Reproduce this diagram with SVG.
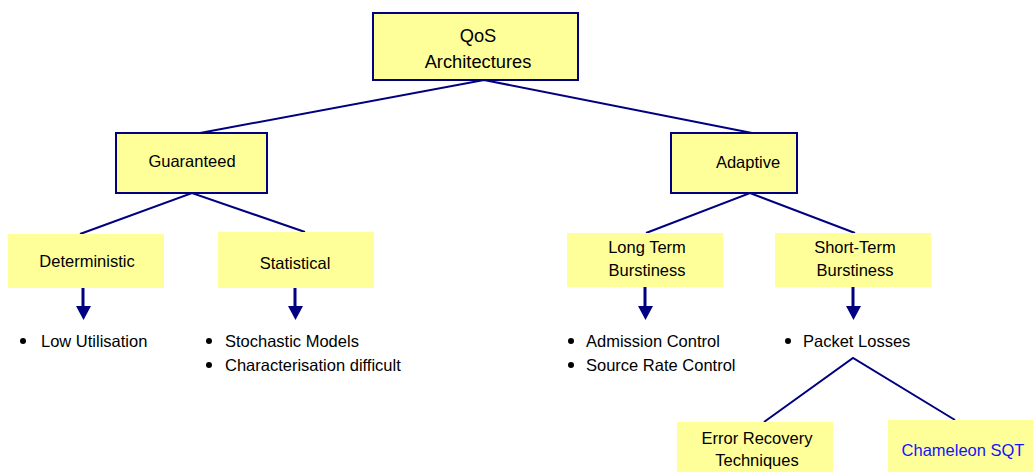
<svg xmlns="http://www.w3.org/2000/svg" width="1033" height="472" viewBox="0 0 1033 472">
<defs>
<style>
.t{font-family:"Liberation Sans",Arial,sans-serif;font-size:16.5px;fill:#000;text-anchor:middle}
.big{font-size:18.3px}
.b{font-family:"Liberation Sans",Arial,sans-serif;font-size:16.5px;fill:#000}
.box{fill:#ffff99;stroke:#000080;stroke-width:2}
.pale{fill:#ffff99;stroke:none}
.ln{stroke:#000080;stroke-width:2;fill:none}
.ar{stroke:#000080;stroke-width:3;fill:none}
.ah{fill:#000080}
</style>
</defs>
<rect width="1033" height="472" fill="#fff"/>
<g id="connectors">
<polyline class="ln" points="200,133 484,80 752,133"/>
<polyline class="ln" points="80,234 192,193 305,232"/>
<polyline class="ln" points="646,233 750,193 855,233"/>
<polyline class="ln" points="764,422 853,358 955,420"/>
<line class="ar" x1="83" y1="288" x2="83" y2="308"/>
<polygon class="ah" points="76,306 91,306 83.5,320"/>
<line class="ar" x1="295" y1="288" x2="295" y2="308"/>
<polygon class="ah" points="288,306 303,306 295.5,320"/>
<line class="ar" x1="645" y1="287" x2="645" y2="308"/>
<polygon class="ah" points="638,306 653,306 645.5,320"/>
<line class="ar" x1="853" y1="281" x2="853" y2="308"/>
<polygon class="ah" points="846,306 861,306 853.5,320"/>
</g>
<g id="qos">
<rect class="box" x="373" y="13" width="205" height="67"/>
<text class="t big" x="478" y="42">QoS</text>
<text class="t big" x="478" y="68">Architectures</text>
</g>
<g id="guaranteed">
<rect class="box" x="116" y="133" width="151" height="60"/>
<text class="t" x="192" y="167">Guaranteed</text>
</g>
<g id="adaptive">
<rect class="box" x="671" y="133" width="126" height="60"/>
<text class="t" x="748" y="168">Adaptive</text>
</g>
<g id="deterministic">
<rect class="pale" x="8" y="234" width="156" height="54"/>
<text class="t" x="87" y="267">Deterministic</text>
</g>
<g id="statistical">
<rect class="pale" x="218" y="232" width="156" height="56"/>
<text class="t" x="295" y="269">Statistical</text>
</g>
<g id="longterm">
<rect class="pale" x="567" y="233" width="156" height="54"/>
<text class="t" x="647" y="253">Long Term</text>
<text class="t" x="647" y="276">Burstiness</text>
</g>
<g id="shortterm">
<rect class="pale" x="775" y="233" width="156" height="54"/>
<text class="t" x="855" y="253">Short-Term</text>
<text class="t" x="855" y="276">Burstiness</text>
</g>
<g id="det-list">
<circle cx="23" cy="341" r="3" fill="#000"/>
<text class="b" x="41" y="347">Low Utilisation</text>
</g>
<g id="stat-list">
<circle cx="209" cy="341" r="3" fill="#000"/>
<text class="b" x="225" y="347">Stochastic Models</text>
<circle cx="209" cy="365" r="3" fill="#000"/>
<text class="b" x="225" y="371">Characterisation difficult</text>
</g>
<g id="long-list">
<circle cx="571" cy="341" r="3" fill="#000"/>
<text class="b" x="586" y="347">Admission Control</text>
<circle cx="571" cy="365" r="3" fill="#000"/>
<text class="b" x="586" y="371">Source Rate Control</text>
</g>
<g id="short-list">
<circle cx="788" cy="341" r="3" fill="#000"/>
<text class="b" x="803" y="347">Packet Losses</text>
</g>
<g id="error">
<rect class="pale" x="677" y="422" width="156" height="50"/>
<text class="t" x="757" y="444">Error Recovery</text>
<text class="t" x="757" y="466">Techniques</text>
</g>
<g id="chameleon">
<rect class="pale" x="888" y="420" width="145" height="52"/>
<text class="t" x="963" y="456" style="fill:#1414ff">Chameleon SQT</text>
</g>
</svg>
